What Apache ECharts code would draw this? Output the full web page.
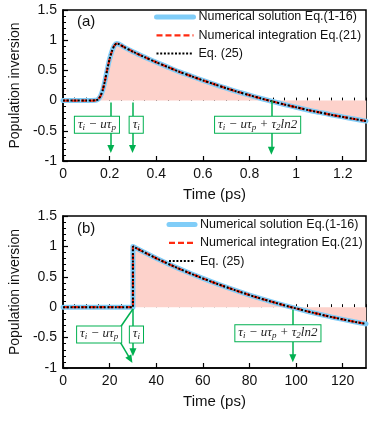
<!DOCTYPE html>
<html><head><meta charset="utf-8">
<script src="https://cdn.jsdelivr.net/npm/echarts@6/dist/echarts.min.js"></script>
<style>html,body{margin:0;padding:0;background:#fff}#c{width:374px;height:421px}</style>
</head><body><div id="c"></div>
<script>
// ---- data ----
const tA = [0, 0.05, 0.10, 0.14, 0.15, 0.16, 0.17, 0.18, 0.19, 0.20, 0.21, 0.22, 0.23, 0.24, 0.26, 0.30, 0.35, 0.40, 0.45, 0.50, 0.55, 0.60, 0.65, 0.70, 0.75, 0.80, 0.85, 0.90, 0.95, 1.00, 1.05, 1.10, 1.15, 1.20, 1.25, 1.30];
const nA = [0, 0, 0, 0.005, 0.02, 0.07, 0.17, 0.33, 0.52, 0.69, 0.82, 0.91, 0.945, 0.935, 0.89, 0.81, 0.72, 0.635, 0.555, 0.475, 0.405, 0.335, 0.27, 0.205, 0.145, 0.09, 0.035, -0.015, -0.065, -0.11, -0.155, -0.195, -0.235, -0.27, -0.305, -0.34];
const tB = [0, 10, 20, 30, 30, 35, 40, 45, 50, 55, 60, 65, 70, 75, 80, 85, 90, 95, 100, 105, 110, 115, 120, 125, 130];
const nB = [0, 0, 0, 0, 1.0, 0.90, 0.805, 0.715, 0.63, 0.55, 0.473, 0.40, 0.33, 0.264, 0.20, 0.14, 0.085, 0.03, -0.02, -0.07, -0.115, -0.16, -0.20, -0.24, -0.275];
const seriesNames = ['Numerical solution Eq.(1-16)', 'Numerical integration Eq.(21)', 'Eq. (25)'];
const yTicks = [-1, -0.5, 0, 0.5, 1, 1.5];
const panelLabels = ['(a)', '(b)'];
const xTitle = 'Time (ps)';
const yTitle = 'Population inversion';
const boxTexts = {
  shift: '{m|τ}{s|i}{m| − uτ}{s|p}',
  ti: '{m|τ}{s|i}',
  zero: '{m|τ}{s|i}{m| − uτ}{s|p}{m| + τ}{s|2}{m|ln2}'
};
// ---- annotation anchors (data coordinates) ----
const arrowsA = [[0.205, -0.03, 0.205, -0.80], [0.298, -0.03, 0.298, -0.80], [0.894, 0, 0.894, -0.83]];
const boxesA = [[0.1455, -0.40, 'shift'], [0.314, -0.40, 'ti'], [0.835, -0.40, 'zero']];
const arrowsB = [[30, -0.03, 30, -0.74], [98.6, -0.04, 98.6, -0.84]];
const curvesB = [[30, -0.03, 24.6, -0.33, false], [24.6, -0.58, 28.9, -0.86, true]];
const boxesB = [[15.5, -0.45, 'shift'], [31.5, -0.45, 'ti'], [92.2, -0.43, 'zero']];

const SANS = 'Liberation Sans, Arial, Helvetica, sans-serif';
const SERIF = 'Liberation Serif, DejaVu Serif, serif';
const GREEN = '#00b050';
const BLUE = '#80cdf8';
const RED = '#ff2a10';
const PINK = '#fdd2cb';

const grids = [
  {left: 60, right: 8, top: 10, height: 151},
  {left: 60, right: 8, top: 216, height: 152}
];
grids.forEach(g => { g.show = true; g.borderColor = '#000'; g.borderWidth = 1.5; g.backgroundColor = 'transparent'; });

function mainX(gi, max, interval) {
  return {
    type: 'value', gridIndex: gi, position: 'bottom', min: 0, max: max, interval: interval,
    name: xTitle, nameLocation: 'middle', nameGap: 26,
    nameTextStyle: {fontFamily: SANS, fontSize: 15, color: '#111'},
    axisLine: {show: true, onZero: false, lineStyle: {color: '#000', width: 1.5}},
    axisTick: {show: true, inside: true, length: 5, lineStyle: {color: '#000', width: 1.2}},
    axisLabel: {fontFamily: SANS, fontSize: 14, color: '#111', margin: 6, showMaxLabel: false},
    splitLine: {show: false}
  };
}
function minorX(gi, max, interval) {
  return {
    type: 'value', gridIndex: gi, position: 'bottom', min: 0, max: max, interval: interval,
    axisLine: {show: false},
    axisTick: {show: true, inside: true, length: 3, lineStyle: {color: '#000', width: 1}},
    axisLabel: {show: false}, splitLine: {show: false}
  };
}
function yAx(gi) {
  return {
    type: 'value', gridIndex: gi, min: -1, max: 1.5, interval: 0.5,
    name: yTitle, nameLocation: 'middle', nameGap: 38,
    nameTextStyle: {fontFamily: SANS, fontSize: 14, color: '#111'},
    axisLine: {show: true, onZero: false, lineStyle: {color: '#000', width: 1.5}},
    axisTick: {show: true, inside: true, length: 5, lineStyle: {color: '#000', width: 1.2}},
    minorTick: {show: true, splitNumber: 5, length: 3, lineStyle: {color: '#000', width: 1}},
    axisLabel: {fontFamily: SANS, fontSize: 14, color: '#111', margin: 6,
      formatter: v => { const t = yTicks.find(k => Math.abs(k - v) < 1e-9); return t === undefined ? '' : String(t); }},
    splitLine: {show: false}
  };
}

function curveSeries(xi, yi, t, n, smooth) {
  const d = t.map((x, i) => [x, n[i]]);
  return [
    {name: seriesNames[0], type: 'line', xAxisIndex: xi, yAxisIndex: yi, data: d, showSymbol: false, symbol: 'none', smooth: smooth,
      lineStyle: {color: BLUE, width: 5, cap: 'round', join: 'round'}, itemStyle: {color: BLUE},
      areaStyle: {color: PINK, opacity: 1}, z: 2, animation: false},
    {name: seriesNames[1], type: 'line', xAxisIndex: xi, yAxisIndex: yi, data: d, showSymbol: false, symbol: 'none', smooth: smooth,
      lineStyle: {color: RED, width: 2.2, type: [6, 3]}, itemStyle: {color: RED}, z: 3, animation: false},
    {name: seriesNames[2], type: 'line', xAxisIndex: xi, yAxisIndex: yi, data: d, showSymbol: false, symbol: 'none', smooth: smooth,
      lineStyle: {color: '#000', width: 2, type: [2, 1.7]}, itemStyle: {color: '#000'}, z: 4, animation: false}
  ];
}

const richStyle = {
  m: {fontFamily: SERIF, fontStyle: 'italic', fontSize: 13, color: '#222', lineHeight: 15, verticalAlign: 'middle'},
  s: {fontFamily: SERIF, fontStyle: 'italic', fontSize: 9, color: '#222', lineHeight: 15, verticalAlign: 'bottom'}
};

function arrowSeries(xi, yi, arrows, curves) {
  const data = arrows.map(a => [{coord: [a[0], a[1]], symbol: 'none'}, {coord: [a[2], a[3]], symbol: 'triangle'}]);
  (curves || []).forEach(c => data.push([
    {coord: [c[0], c[1]], symbol: 'none', lineStyle: {curveness: 0.25}},
    {coord: [c[2], c[3]], symbol: c[4] ? 'triangle' : 'none'}
  ]));
  return {
    type: 'line', xAxisIndex: xi, yAxisIndex: yi, data: [], z: 6, animation: false,
    markLine: {silent: true, animation: false, symbolSize: [7, 8], label: {show: false},
      lineStyle: {color: GREEN, width: 1.5, type: 'solid'}, emphasis: {disabled: true},
      data: data}
  };
}
function boxSeries(xi, yi, boxes) {
  return {
    type: 'line', xAxisIndex: xi, yAxisIndex: yi, data: [], z: 8, animation: false,
    markPoint: {silent: true, animation: false, symbol: 'rect', symbolSize: 1, itemStyle: {color: 'rgba(0,0,0,0)'},
      z: 8,
      label: {show: true, position: 'inside', backgroundColor: '#fff', borderColor: GREEN, borderWidth: 1,
        padding: [0, 3, 1, 3], rich: richStyle},
      data: boxes.map(b => ({coord: [b[0], b[1]], label: {formatter: boxTexts[b[2]]}}))}
  };
}

function legendFor(left, top, w) {
  return {
    orient: 'vertical', left: left, top: top, itemWidth: w, itemHeight: 12, itemGap: 5.3,
    selectedMode: false, padding: 0,
    textStyle: {fontFamily: SANS, fontSize: 12.5, color: '#111'},
    itemStyle: {opacity: 0},
    data: [
      {name: seriesNames[0], lineStyle: {width: 5, cap: 'round'}},
      {name: seriesNames[1], lineStyle: {width: 2.2}},
      {name: seriesNames[2], lineStyle: {width: 2}}
    ]
  };
}

const option = {
  animation: false,
  backgroundColor: '#fff',
  grid: grids,
  title: [
    {text: panelLabels[0], left: 77, top: 14, padding: 0, textStyle: {fontFamily: SANS, fontSize: 15, fontWeight: 'normal', color: '#111'}},
    {text: panelLabels[1], left: 77, top: 221, padding: 0, textStyle: {fontFamily: SANS, fontSize: 15, fontWeight: 'normal', color: '#111'}}
  ],
  legend: [legendFor(154, 10.5, 37), legendFor(166.5, 218, 26)],
  xAxis: [mainX(0, 1.3, 0.2), minorX(0, 1.3, 0.05), mainX(1, 130, 20), minorX(1, 130, 5)],
  yAxis: [yAx(0), yAx(1)],
  series: [
    ...curveSeries(0, 0, tA, nA, 0.25),
    ...curveSeries(2, 1, tB, nB, false),
    arrowSeries(0, 0, arrowsA),
    arrowSeries(2, 1, arrowsB, curvesB),
    boxSeries(0, 0, boxesA),
    boxSeries(2, 1, boxesB)
  ]
};
const chart = echarts.init(document.getElementById('c'), null, {renderer: 'canvas'});
chart.setOption(option);
</script>
</body></html>
